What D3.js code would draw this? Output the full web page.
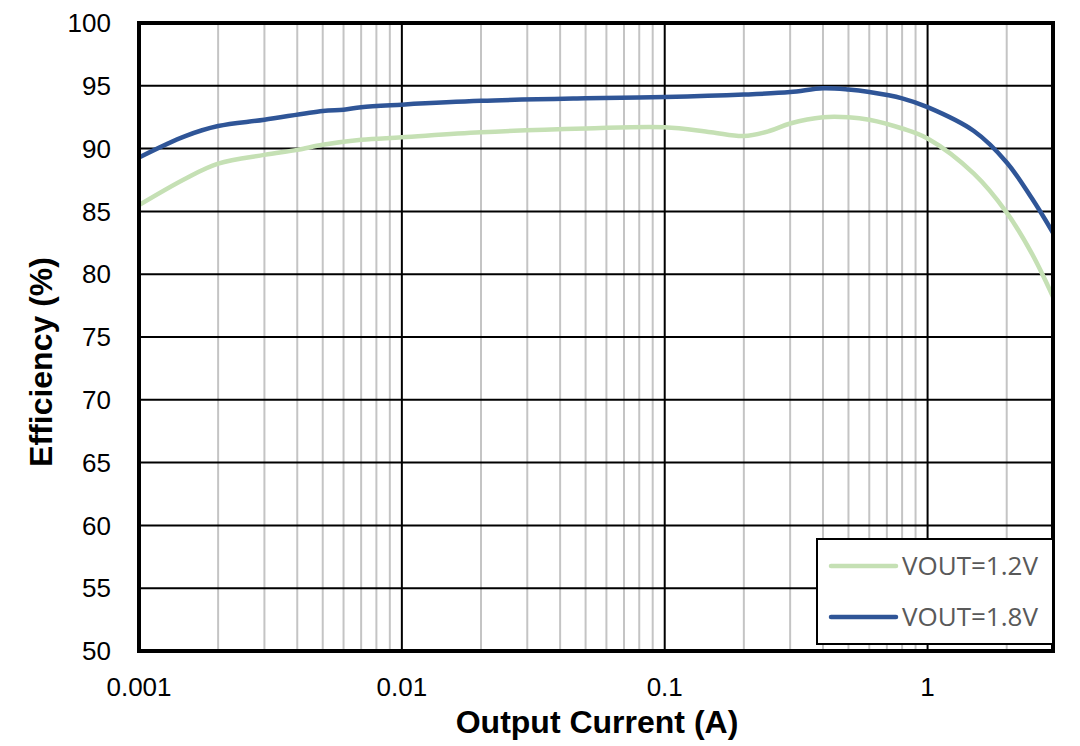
<!DOCTYPE html>
<html>
<head>
<meta charset="utf-8">
<script src="https://cdn.jsdelivr.net/npm/d3@7"></script>
<style>
  body { margin: 0; background: #fff; }
  svg { display: block; }
</style>
</head>
<body>
<svg id="chart" width="1080" height="746"></svg>
<script>
// load current (A)
var current12 = [0.001, 0.0015, 0.002, 0.003, 0.004, 0.005, 0.007, 0.01, 0.02, 0.05, 0.1, 0.15, 0.2, 0.25, 0.3, 0.4, 0.5, 0.6, 0.8, 1, 1.5, 2, 2.5, 3];
var eff12 = [85.5, 87.6, 88.8, 89.5, 89.9, 90.3, 90.7, 90.9, 91.3, 91.6, 91.7, 91.3, 91.0, 91.4, 92.0, 92.5, 92.5, 92.3, 91.6, 90.8, 88.0, 84.9, 81.6, 78.2];

var current18 = [0.001, 0.0015, 0.002, 0.003, 0.005, 0.006, 0.007, 0.01, 0.02, 0.05, 0.1, 0.2, 0.3, 0.4, 0.5, 0.6, 0.8, 1, 1.5, 2, 2.5, 3];
var eff18 = [89.3, 91.0, 91.8, 92.3, 93.0, 93.1, 93.3, 93.5, 93.8, 94.0, 94.1, 94.3, 94.5, 94.8, 94.7, 94.5, 94.0, 93.3, 91.4, 88.9, 86.0, 83.3];

var seriesNames = ["VOUT=1.2V", "VOUT=1.8V"];
var seriesColors = ["#c5e0b4", "#2f5597"];

var yTicks = [50, 55, 60, 65, 70, 75, 80, 85, 90, 95, 100];
var xTicks = [0.001, 0.01, 0.1, 1];
var xTickLabels = ["0.001", "0.01", "0.1", "1"];

var svg = d3.select("#chart");
var plotL = 139, plotR = 1053, plotT = 23, plotB = 651;

var x = d3.scaleLog().domain([0.001, 3]).range([plotL, plotR]);
var y = d3.scaleLinear().domain([50, 100]).range([plotB, plotT]);

// minor grid: 2..9 in each decade
var minor = [];
[0.001, 0.01, 0.1, 1].forEach(function(d) {
    for (var k = 2; k <= 9; k++) {
        var v = d * k;
        if (v < 3) minor.push(v);
    }
});

var grid = svg.append("g");
grid.selectAll("line.minor")
    .data(minor)
    .enter().append("line")
    .attr("class", "minor")
    .attr("x1", function(d) { return x(d); })
    .attr("x2", function(d) { return x(d); })
    .attr("y1", plotT)
    .attr("y2", plotB)
    .attr("stroke", "#c4c4c4")
    .attr("stroke-width", 2);

grid.selectAll("line.major")
    .data(xTicks)
    .enter().append("line")
    .attr("class", "major")
    .attr("x1", function(d) { return x(d); })
    .attr("x2", function(d) { return x(d); })
    .attr("y1", plotT)
    .attr("y2", plotB)
    .attr("stroke", "#000")
    .attr("stroke-width", 2);

grid.selectAll("line.hmajor")
    .data(yTicks)
    .enter().append("line")
    .attr("class", "hmajor")
    .attr("x1", plotL)
    .attr("x2", plotR)
    .attr("y1", function(d) { return y(d); })
    .attr("y2", function(d) { return y(d); })
    .attr("stroke", "#000")
    .attr("stroke-width", 2);

// curves
var line = d3.line()
    .x(function(d) { return x(d[0]); })
    .y(function(d) { return y(d[1]); })
    .curve(d3.curveCatmullRom.alpha(0.5));

svg.append("clipPath").attr("id", "plotclip")
    .append("rect").attr("x", plotL).attr("y", plotT)
    .attr("width", plotR - plotL).attr("height", plotB - plotT);

var curves = svg.append("g").attr("clip-path", "url(#plotclip)");
curves.append("path")
    .datum(d3.zip(current12, eff12))
    .attr("d", line)
    .attr("fill", "none")
    .attr("stroke", seriesColors[0])
    .attr("stroke-width", 4.5)
    .attr("stroke-linecap", "round");
curves.append("path")
    .datum(d3.zip(current18, eff18))
    .attr("d", line)
    .attr("fill", "none")
    .attr("stroke", seriesColors[1])
    .attr("stroke-width", 4.5)
    .attr("stroke-linecap", "round");

// frame
svg.append("rect")
    .attr("x", plotL).attr("y", plotT)
    .attr("width", plotR - plotL).attr("height", plotB - plotT)
    .attr("fill", "none")
    .attr("stroke", "#000")
    .attr("stroke-width", 4);

// tick labels
svg.append("g").selectAll("text")
    .data(yTicks)
    .enter().append("text")
    .attr("x", 111)
    .attr("y", function(d) { return y(d); })
    .attr("dy", "0.35em")
    .attr("text-anchor", "end")
    .style("font-family", "'Liberation Sans', Arial, sans-serif")
    .style("font-size", "26px")
    .text(function(d) { return d; });

svg.append("g").selectAll("text")
    .data(xTicks)
    .enter().append("text")
    .attr("x", function(d) { return x(d); })
    .attr("y", 696)
    .attr("text-anchor", "middle")
    .style("font-family", "'Liberation Sans', Arial, sans-serif")
    .style("font-size", "26px")
    .text(function(d, i) { return xTickLabels[i]; });

// axis titles
svg.append("text")
    .attr("x", 597)
    .attr("y", 733)
    .attr("text-anchor", "middle")
    .style("font-family", "'Liberation Sans', Arial, sans-serif")
    .style("font-weight", "bold")
    .style("font-size", "32px")
    .text("Output Current (A)");

svg.append("text")
    .attr("transform", "translate(52,362) rotate(-90)")
    .attr("text-anchor", "middle")
    .style("font-family", "'Liberation Sans', Arial, sans-serif")
    .style("font-weight", "bold")
    .style("font-size", "32px")
    .text("Efficiency (%)");

// legend
var lg = svg.append("g");
lg.append("rect")
    .attr("x", 817).attr("y", 539)
    .attr("width", plotR - 817).attr("height", 105)
    .attr("fill", "#fff")
    .attr("stroke", "#000")
    .attr("stroke-width", 2);
var rows = lg.selectAll("g.row")
    .data(seriesNames)
    .enter().append("g")
    .attr("class", "row")
    .attr("transform", function(d, i) { return "translate(0," + (566 + i * 51) + ")"; });
rows.append("line")
    .attr("x1", 831).attr("x2", 896)
    .attr("stroke", function(d, i) { return seriesColors[i]; })
    .attr("stroke-width", 4.5)
    .attr("stroke-linecap", "round");
rows.append("text")
    .attr("x", 902)
    .attr("y", 9)
    .style("font-family", "'Open Sans', 'Noto Sans', sans-serif")
    .style("font-size", "26px")
    .attr("fill", "#595959")
    .text(function(d) { return d; });
</script>
</body>
</html>
